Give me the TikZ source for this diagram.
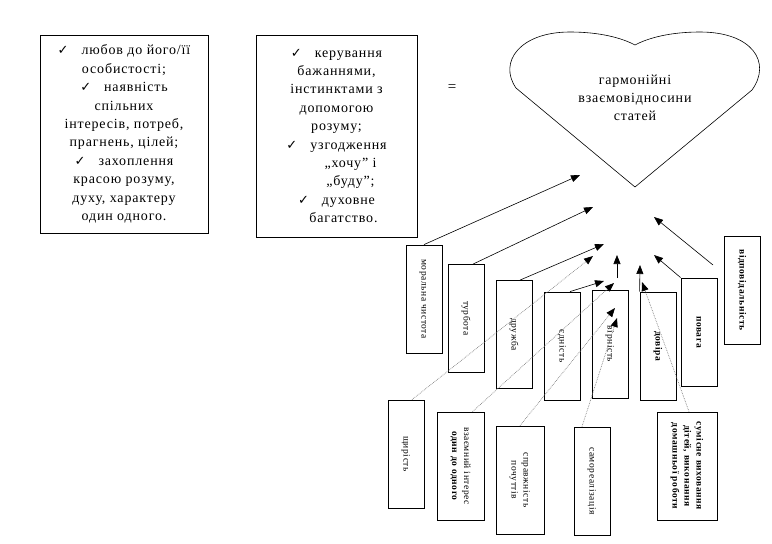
\documentclass[tikz,border=0pt]{standalone}
\usepackage{fontspec}
\setmainfont{Liberation Serif}[LetterSpace=6]
\newfontfamily\symfont{DejaVu Sans}
\usetikzlibrary{arrows.meta}
\newcommand{\chk}{{\symfont\fontsize{13}{13}\selectfont ✓}\ \ \ }
\newcommand{\vtext}[1]{\rotatebox{-90}{\begin{tabular}{@{}c@{}}#1\end{tabular}}}

\begin{document}
\begin{tikzpicture}[x=1pt,y=-1pt,
	tbox/.style={draw,line width=0.8pt,align=center,inner sep=0pt,font=\fontsize{14}{18.4}\selectfont},
	vbox/.style={draw,line width=0.8pt,minimum width=36pt,minimum height=108pt,inner sep=0pt,font=\fontsize{9.5}{12}\selectfont},
	arr/.style={-{Triangle[length=9pt,width=7pt]},line width=0.6pt},
	darr/.style={-{Triangle[length=9pt,width=7pt,color=black]},gray,densely dotted,line width=0.7pt}]
	\useasboundingbox (0,0) rectangle (772,544);
	% two text boxes and the heart
	\node[tbox,minimum width=168pt,minimum height=198pt] (love) at (124,134)
	{\chk любов до його/її\\особистості;\\\chk наявність\\спільних\\інтересів, потреб,\\прагнень, цілей;\\\chk захоплення\\красою розуму,\\духу, характеру\\один одного.};
	\node[tbox,minimum width=161pt,minimum height=202pt] (mind) at (336.5,136)
	{\chk керування\\бажаннями,\\інстинктами з\\допомогою\\розуму;\\\chk узгодження\\\qquad„хочу” і\\\qquad„буду”;\\\chk духовне\\\quad багатство.};
	\node[font=\fontsize{15}{15}\selectfont] (eq) at (452,88) {=};
	\draw[line width=0.6pt] (635,187) -- (516,88)
	.. controls (498,62) and (520,32) .. (570,32)
	.. controls (600,32) and (622,38) .. (635,45)
	.. controls (648,38) and (670,32) .. (700,32)
	.. controls (752,32) and (772,62) .. (752,90) -- cycle;
	\node[align=center,font=\fontsize{14}{18}\selectfont] (harm) at (635,98) {гармонійні\\взаємовідносини\\статей};
	% upper row
	\node[vbox] (b1) at (424,299) {\vtext{моральна чистота}};
	\node[vbox] (b2) at (466,318.5) {\vtext{турбота}};
	\node[vbox] (b3) at (514,334.5) {\vtext{дружба}};
	\node[vbox] (b4) at (562,346) {\vtext{єдність}};
	\node[vbox] (b5) at (610,344) {\vtext{вірність}};
	\node[vbox] (b6) at (658,346) {\vtext{\bfseries довіра}};
	\node[vbox] (b7) at (699,332) {\vtext{\bfseries повага}};
	\node[vbox] (b8) at (742,290) {\vtext{\bfseries відповідальність}};
	% lower row
	\node[vbox] (l1) at (406,454) {\vtext{щирість}};
	\node[vbox,minimum width=47pt] (l2) at (460.5,466) {\vtext{взаємний інтерес\\\bfseries один до одного}};
	\node[vbox,minimum width=48pt] (l3) at (520,480) {\vtext{справжність\\почуттів}};
	\node[vbox] (l4) at (592,481) {\vtext{самореалізація}};
	\node[vbox,minimum width=60pt] (l5) at (687,466) {\vtext{\bfseries сумісне виховання\\\bfseries дітей, виконання\\\bfseries домашньої роботи}};
	% arrow ends
	\coordinate (t1) at (580,175);
	\coordinate (t2) at (593,207);
	\coordinate (t3) at (604,244);
	\coordinate (t4) at (604,281);
	\coordinate (s5) at (617,278);
	\coordinate (t5) at (617,255);
	\coordinate (t6) at (640,265);
	\coordinate (t7) at (654,255);
	\coordinate (s8) at (713,265);
	\coordinate (t8) at (654,217);
	\coordinate (d1) at (593,256);
	\coordinate (d2) at (614,283);
	\coordinate (d3) at (615,308);
	\coordinate (d4) at (617,318);
	\coordinate (d5) at (642,282);
	\draw[arr] (b1.north) -- (t1);
	\draw[arr] ([xshift=7pt]b2.north) -- (t2);
	\draw[arr] ([xshift=6pt]b3.north) -- (t3);
	\draw[arr] ([xshift=8pt]b4.north) -- (t4);
	\draw[arr] (s5) -- (t5);
	\draw[arr] (b6.north west) -- (t6);
	\draw[arr] (b7.north west) -- (t7);
	\draw[arr] (s8) -- (t8);
	\draw[darr] ([xshift=6pt]l1.north) -- (d1);
	\draw[darr] ([xshift=12pt]l2.north) -- (d2);
	\draw[darr] (l3.north) -- (d3);
	\draw[darr] ([xshift=-10pt]l4.north) -- (d4);
	\draw[darr] ([xshift=2pt]l5.north) -- (d5);
\end{tikzpicture}
\end{document}
